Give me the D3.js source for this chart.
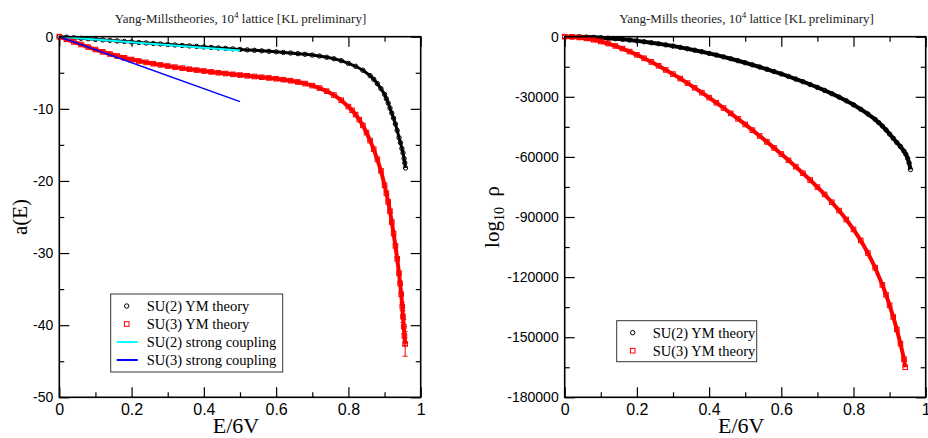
<!DOCTYPE html>
<html>
<head>
<meta charset="utf-8">
<script src="https://cdn.jsdelivr.net/npm/d3@7"></script>
<style>
  body { margin: 0; background: #fff; }
  svg { display: block; font-family: "Liberation Serif", "Times New Roman", serif; }
</style>
</head>
<body>
<svg id="chart" width="928" height="438"></svg>
<script>
// --- data: [E/6V, value] ---
var su2Entropy = [[0,0],[0.02,-0.07],[0.04,-0.15],[0.06,-0.22],[0.08,-0.29],[0.10,-0.37],[0.12,-0.44],[0.14,-0.51],[0.16,-0.59],[0.18,-0.66],[0.20,-0.73],[0.22,-0.80],[0.24,-0.87],[0.26,-0.94],[0.28,-1.01],[0.30,-1.08],[0.32,-1.15],[0.34,-1.22],[0.36,-1.28],[0.38,-1.35],[0.40,-1.42],[0.42,-1.49],[0.44,-1.56],[0.46,-1.62],[0.48,-1.69],[0.50,-1.76],[0.52,-1.83],[0.54,-1.89],[0.56,-1.96],[0.58,-2.03],[0.60,-2.10],[0.62,-2.18],[0.64,-2.26],[0.66,-2.35],[0.68,-2.44],[0.70,-2.55],[0.72,-2.68],[0.74,-2.85],[0.76,-3.06],[0.78,-3.32],[0.80,-3.70],[0.82,-4.10],[0.84,-4.65],[0.86,-5.40],[0.87,-5.90],[0.88,-6.50],[0.89,-7.20],[0.90,-8.00],[0.905,-8.60],[0.91,-9.20],[0.915,-9.90],[0.92,-10.6],[0.925,-11.3],[0.93,-12.1],[0.935,-13.0],[0.94,-14.0],[0.944,-14.7],[0.948,-15.5],[0.951,-16.1],[0.954,-16.9],[0.956,-17.5],[0.958,-18.2]];

var su3Entropy = [[0,0],[0.02,-0.36],[0.04,-0.72],[0.06,-1.08],[0.08,-1.44],[0.10,-1.78],[0.12,-2.10],[0.14,-2.40],[0.16,-2.68],[0.18,-2.93],[0.20,-3.16],[0.22,-3.37],[0.24,-3.56],[0.26,-3.74],[0.28,-3.91],[0.30,-4.07],[0.32,-4.22],[0.34,-4.36],[0.36,-4.50],[0.38,-4.63],[0.40,-4.76],[0.42,-4.88],[0.44,-5.00],[0.46,-5.11],[0.48,-5.22],[0.50,-5.32],[0.52,-5.42],[0.54,-5.52],[0.56,-5.62],[0.58,-5.72],[0.60,-5.83],[0.62,-5.96],[0.64,-6.10],[0.66,-6.28],[0.68,-6.50],[0.70,-6.78],[0.72,-7.12],[0.74,-7.55],[0.76,-8.10],[0.78,-8.80],[0.80,-9.70],[0.81,-10.2],[0.82,-10.8],[0.83,-11.5],[0.84,-12.3],[0.85,-13.3],[0.86,-14.4],[0.87,-15.6],[0.88,-17.0],[0.89,-18.6],[0.90,-20.6],[0.905,-21.7],[0.91,-22.9],[0.915,-24.2],[0.92,-25.7],[0.925,-27.3],[0.93,-29.0],[0.935,-30.8],[0.94,-32.8],[0.943,-34.2],[0.946,-35.7],[0.949,-37.4],[0.951,-38.8],[0.953,-40.2],[0.955,-41.5],[0.957,-42.6]];

// error bars on the last SU(3) points: [E, value, error]
var su3EntropyErr = [[0.949,-37.4,0.6],[0.951,-38.8,0.8],[0.953,-40.2,1.0],[0.955,-41.5,1.3],[0.957,-42.6,1.7]];

var su2Strong = [[0,0],[0.5,-1.9]];
var su3Strong = [[0,0],[0.5,-9.0]];

var su2Rho = [[0,0],[0.02,-20],[0.04,-80],[0.06,-190],[0.08,-330],[0.10,-520],[0.12,-750],[0.14,-1020],[0.16,-1330],[0.18,-1690],[0.20,-2080],[0.22,-2520],[0.24,-3000],[0.26,-3520],[0.28,-4080],[0.30,-4680],[0.32,-5320],[0.34,-6010],[0.36,-6740],[0.38,-7510],[0.40,-8320],[0.42,-9170],[0.44,-10070],[0.46,-11000],[0.48,-11980],[0.50,-13000],[0.52,-14040],[0.54,-15120],[0.56,-16240],[0.58,-17400],[0.60,-18600],[0.62,-19840],[0.64,-21130],[0.66,-22470],[0.68,-23860],[0.70,-25300],[0.72,-26820],[0.74,-28430],[0.76,-30150],[0.78,-32000],[0.80,-34000],[0.82,-36200],[0.84,-38600],[0.86,-41300],[0.87,-42900],[0.88,-44600],[0.89,-46500],[0.90,-48600],[0.91,-50700],[0.92,-52800],[0.93,-54800],[0.94,-57200],[0.945,-58700],[0.95,-60700],[0.954,-63000],[0.958,-66300]];

var su3Rho = [[0,0],[0.02,-100],[0.04,-380],[0.06,-860],[0.08,-1530],[0.10,-2380],[0.12,-3410],[0.14,-4600],[0.16,-5950],[0.18,-7430],[0.20,-9050],[0.22,-10780],[0.24,-12610],[0.26,-14550],[0.28,-16580],[0.30,-18690],[0.32,-20890],[0.34,-23160],[0.36,-25510],[0.38,-27930],[0.40,-30420],[0.42,-32970],[0.44,-35590],[0.46,-38270],[0.48,-41000],[0.50,-43800],[0.52,-46640],[0.54,-49540],[0.56,-52500],[0.58,-55500],[0.60,-58560],[0.62,-61690],[0.64,-64880],[0.66,-68160],[0.68,-71550],[0.70,-75070],[0.72,-78750],[0.74,-82640],[0.76,-86790],[0.78,-91270],[0.80,-96200],[0.82,-101700],[0.84,-108000],[0.86,-115300],[0.88,-123900],[0.89,-128800],[0.90,-134100],[0.91,-139900],[0.92,-146100],[0.93,-153200],[0.94,-161000],[0.943,-165000]];

// ticks
var energyTicks = [0, 0.2, 0.4, 0.6, 0.8, 1];
var energyMinor = [0.1, 0.3, 0.5, 0.7, 0.9];
var entropyTicks = [0, -10, -20, -30, -40, -50];
var entropyMinor = [-5, -15, -25, -35, -45];
var rhoTicks = [0, -30000, -60000, -90000, -120000, -150000, -180000];
var rhoMinor = [-15000, -45000, -75000, -105000, -135000, -165000];

var legendLeft = ['SU(2) YM theory', 'SU(3) YM theory', 'SU(2) strong coupling', 'SU(3) strong coupling'];
var legendRight = ['SU(2) YM theory', 'SU(3) YM theory'];

var svg = d3.select('#chart');
svg.append('rect').attr('width', 928).attr('height', 438).attr('fill', '#fff');

function drawPanel(p) {
	var x = d3.scaleLinear().domain([0, 1]).range([p.left, p.right]);
	var y = d3.scaleLinear().domain(p.yDomain).range([p.top, p.bottom]);
	var g = svg.append('g');

	// ticks, all pointing inwards
	function ticks(axis, vals, size, tx, ty, labels) {
		var a = axis.tickValues(vals).tickSize(-size).tickSizeOuter(0).tickPadding(6)
			.tickFormat(labels ? function(d) { return String(d); } : '');
		var s = g.append('g').attr('transform', 'translate(' + tx + ',' + ty + ')').call(a);
		s.select('.domain').remove();
		s.selectAll('line').attr('stroke', '#000').attr('stroke-width', 1.2);
		return s;
	}
	var xb = ticks(d3.axisBottom(x), energyTicks, 10, 0, p.bottom, true);
	xb.selectAll('text').attr('font-size', 16).attr('fill', '#000');
	ticks(d3.axisBottom(x), energyMinor, 5, 0, p.bottom, false);
	ticks(d3.axisTop(x), energyTicks, 10, 0, p.top, false);
	ticks(d3.axisTop(x), energyMinor, 5, 0, p.top, false);
	var yl = ticks(d3.axisLeft(y), p.yTicks, 10, p.left, 0, true);
	yl.selectAll('text').attr('font-size', 14).attr('fill', '#000');
	ticks(d3.axisLeft(y), p.yMinor, 5, p.left, 0, false);
	ticks(d3.axisRight(y), p.yTicks, 10, p.right, 0, false);
	ticks(d3.axisRight(y), p.yMinor, 5, p.right, 0, false);

	var line = d3.line().x(function(d) { return x(d[0]); }).y(function(d) { return y(d[1]); });

	p.series.forEach(function(s) {
		// dense markers in the original merge into a band
		g.append('path').datum(s.data).attr('d', line)
			.attr('fill', 'none').attr('stroke', s.color).attr('stroke-width', s.band)
			.attr('stroke-linejoin', 'round');
		if (s.shape === 'circle') {
			g.selectAll(null).data(s.data).enter().append('circle')
				.attr('cx', function(d) { return x(d[0]); })
				.attr('cy', function(d) { return y(d[1]); })
				.attr('r', 2.2).attr('fill', 'none').attr('stroke', s.color).attr('stroke-width', 1);
		} else {
			g.selectAll(null).data(s.data).enter().append('rect')
				.attr('x', function(d) { return x(d[0]) - 2.3; })
				.attr('y', function(d) { return y(d[1]) - 2.3; })
				.attr('width', 4.6).attr('height', 4.6)
				.attr('fill', 'none').attr('stroke', s.color).attr('stroke-width', 1);
		}
	});

	if (p.errors) {
		var eb = g.selectAll(null).data(p.errors).enter().append('g').attr('stroke', '#ff0000').attr('stroke-width', 1);
		eb.append('line')
			.attr('x1', function(d) { return x(d[0]); }).attr('x2', function(d) { return x(d[0]); })
			.attr('y1', function(d) { return y(d[1] + d[2]); }).attr('y2', function(d) { return y(d[1] - d[2]); });
		eb.append('line')
			.attr('x1', function(d) { return x(d[0]) - 2.5; }).attr('x2', function(d) { return x(d[0]) + 2.5; })
			.attr('y1', function(d) { return y(d[1] - d[2]); }).attr('y2', function(d) { return y(d[1] - d[2]); });
		eb.append('line')
			.attr('x1', function(d) { return x(d[0]) - 2.5; }).attr('x2', function(d) { return x(d[0]) + 2.5; })
			.attr('y1', function(d) { return y(d[1] + d[2]); }).attr('y2', function(d) { return y(d[1] + d[2]); });
	}

	(p.lines || []).forEach(function(s) {
		g.append('path').datum(s.data).attr('d', line)
			.attr('fill', 'none').attr('stroke', s.color).attr('stroke-width', s.width);
	});

	// frame
	g.append('rect').attr('x', p.left).attr('y', p.top)
		.attr('width', p.right - p.left).attr('height', p.bottom - p.top)
		.attr('fill', 'none').attr('stroke', '#000').attr('stroke-width', 1.6);

	// title
	var t = g.append('text').attr('x', p.titleX).attr('y', 23).attr('text-anchor', 'middle')
		.attr('font-size', 13).attr('fill', '#222');
	t.append('tspan').text(p.title);
	t.append('tspan').attr('dy', -5).attr('font-size', 9).text('4');
	t.append('tspan').attr('dy', 5).text(' lattice [KL preliminary]');

	g.append('text').attr('x', (p.left + p.right) / 2 - 4).attr('y', 433).attr('text-anchor', 'middle')
		.attr('font-size', 22).attr('fill', '#000').text('E/6V');

	// legend
	var lg = g.append('g');
	lg.append('rect').attr('x', p.legend.x).attr('y', p.legend.y)
		.attr('width', p.legend.w).attr('height', p.legend.h)
		.attr('fill', '#fff').attr('stroke', '#333').attr('stroke-width', 1);
	p.legend.items.forEach(function(it, i) {
		var cy = p.legend.y + 12 + i * 18;
		var sx = p.legend.x + 16;
		if (it.shape === 'circle') {
			lg.append('circle').attr('cx', sx).attr('cy', cy).attr('r', 2.2)
				.attr('fill', 'none').attr('stroke', it.color).attr('stroke-width', 1);
		} else if (it.shape === 'square') {
			lg.append('rect').attr('x', sx - 2.3).attr('y', cy - 2.3).attr('width', 4.6).attr('height', 4.6)
				.attr('fill', 'none').attr('stroke', it.color).attr('stroke-width', 1);
		} else {
			lg.append('line').attr('x1', sx - 10).attr('x2', sx + 11).attr('y1', cy).attr('y2', cy)
				.attr('stroke', it.color).attr('stroke-width', it.width);
		}
		lg.append('text').attr('x', p.legend.x + 36).attr('y', cy + 5)
			.attr('font-size', 14.5).attr('fill', '#000').text(it.label);
	});
	return g;
}

drawPanel({
	left: 59.3, right: 420.7, top: 36.7, bottom: 397.3,
	yDomain: [0, -50], yTicks: entropyTicks, yMinor: entropyMinor,
	title: 'Yang-Millstheories, 10', titleX: 240.5,
	series: [
		{ data: su2Entropy, color: '#000', shape: 'circle', band: 3 },
		{ data: su3Entropy, color: '#ff0000', shape: 'square', band: 4 }
	],
	errors: su3EntropyErr,
	lines: [
		{ data: su2Strong, color: '#00ffff', width: 2 },
		{ data: su3Strong, color: '#0000ff', width: 1.5 }
	],
	legend: { x: 110.7, y: 294, w: 172, h: 78, items: [
		{ label: legendLeft[0], color: '#000', shape: 'circle' },
		{ label: legendLeft[1], color: '#ff0000', shape: 'square' },
		{ label: legendLeft[2], color: '#00ffff', shape: 'line', width: 2 },
		{ label: legendLeft[3], color: '#0000ff', shape: 'line', width: 2 }
	] }
});

drawPanel({
	left: 564.7, right: 925.7, top: 36.7, bottom: 397.3,
	yDomain: [0, -180000], yTicks: rhoTicks, yMinor: rhoMinor,
	title: 'Yang-Mills theories, 10', titleX: 746.5,
	series: [
		{ data: su2Rho, color: '#000', shape: 'circle', band: 4 },
		{ data: su3Rho, color: '#ff0000', shape: 'square', band: 4 }
	],
	legend: { x: 616.7, y: 320.7, w: 140, h: 41, items: [
		{ label: legendRight[0], color: '#000', shape: 'circle' },
		{ label: legendRight[1], color: '#ff0000', shape: 'square' }
	] }
});

// y axis titles
svg.append('text').attr('transform', 'translate(27,217) rotate(-90)')
	.attr('text-anchor', 'middle').attr('font-size', 21).attr('fill', '#000').text('a(E)');
var rt = svg.append('text').attr('transform', 'translate(499,217) rotate(-90)')
	.attr('text-anchor', 'middle').attr('font-size', 21).attr('fill', '#000');
rt.append('tspan').text('log');
rt.append('tspan').attr('dy', 5).attr('font-size', 14).text('10');
rt.append('tspan').attr('dy', -5).text('\u2002\u03c1');
</script>
</body>
</html>
